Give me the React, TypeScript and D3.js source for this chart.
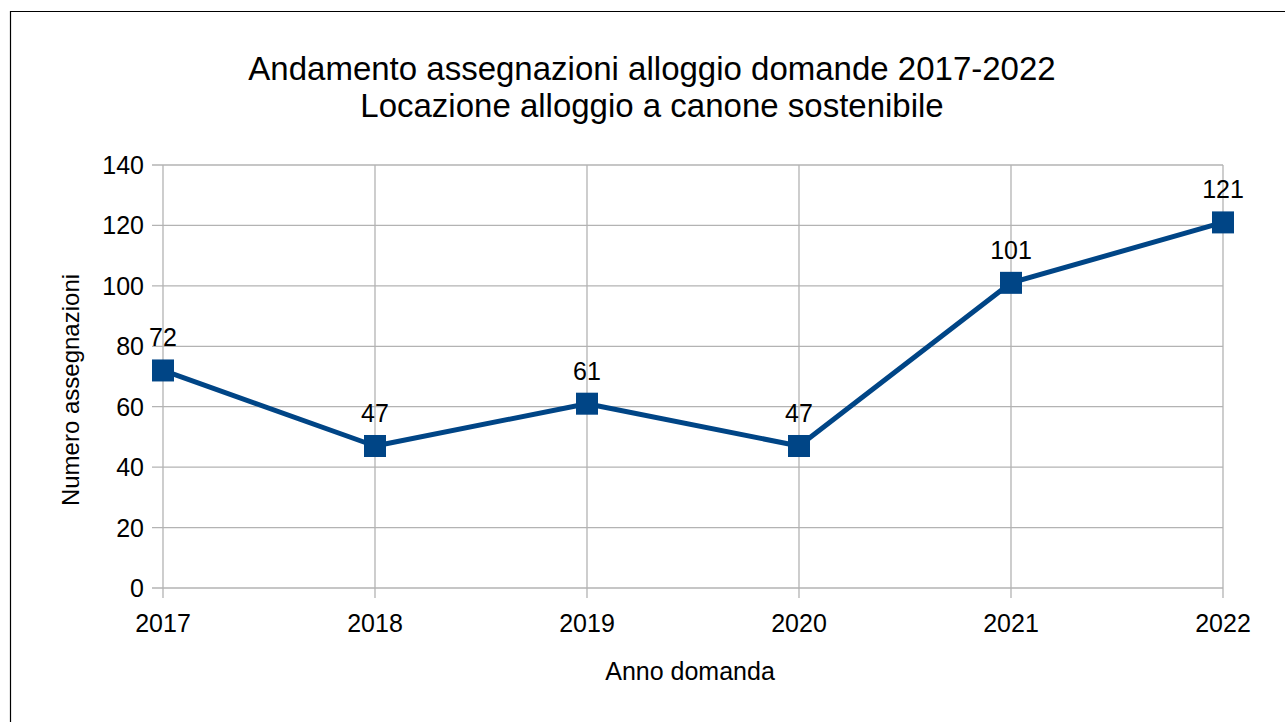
import React from "react";
import * as d3 from "d3";

const years = ["2017", "2018", "2019", "2020", "2021", "2022"];
const values = [72, 47, 61, 47, 101, 121];
const yTicks = [0, 20, 40, 60, 80, 100, 120, 140];
const titleLines = [
  "Andamento assegnazioni alloggio domande 2017-2022",
  "Locazione alloggio a canone sostenibile",
];
const xTitle = "Anno domanda";
const yTitle = "Numero assegnazioni";

const W = 1285;
const H = 722;
const left = 163;
const right = 1223;
const top = 165;
const bottom = 588;
const font = "'Liberation Sans', Arial, sans-serif";
const lineColor = "#004586";
const gridColor = "#b3b3b3";

export default function App() {
  const x = d3.scalePoint<string>().domain(years).range([left, right]);
  const y = d3.scaleLinear().domain([0, 140]).range([bottom, top]);
  const line = d3
    .line<number>()
    .x((_, i) => x(years[i]) as number)
    .y((d) => y(d));
  const ms = 22;

  return (
    <svg
      width={W}
      height={H}
      style={{ position: "absolute", left: 0, top: 0, background: "#fff" }}
      fontFamily={font}
    >
      <rect x={0} y={0} width={W} height={H} fill="#fff" />
      <path d={`M10.5,${H + 5}V11.5H${W + 5}`} fill="none" stroke="#000" strokeWidth={1.2} />
      {titleLines.map((t, i) => (
        <text key={i} x={652} y={80 + i * 37} textAnchor="middle" fontSize={33} fill="#000">
          {t}
        </text>
      ))}
      {yTicks.map((v) => (
        <g key={v}>
          <line x1={152} x2={right} y1={y(v)} y2={y(v)} stroke={gridColor} strokeWidth={1.3} />
          <text x={144} y={y(v) + 9} textAnchor="end" fontSize={25} fill="#000">
            {v}
          </text>
        </g>
      ))}
      {years.map((yr) => (
        <g key={yr}>
          <line
            x1={x(yr)}
            x2={x(yr)}
            y1={top}
            y2={bottom + 10}
            stroke={gridColor}
            strokeWidth={1.3}
          />
          <text x={x(yr)} y={632} textAnchor="middle" fontSize={25} fill="#000">
            {yr}
          </text>
        </g>
      ))}
      <path d={line(values) || ""} fill="none" stroke={lineColor} strokeWidth={5} strokeLinejoin="round" />
      {values.map((v, i) => (
        <g key={i}>
          <rect
            x={(x(years[i]) as number) - ms / 2}
            y={y(v) - ms / 2}
            width={ms}
            height={ms}
            fill={lineColor}
          />
          <text
            x={x(years[i]) as number}
            y={y(v) - 24}
            textAnchor="middle"
            fontSize={25}
            fill="#000"
          >
            {v}
          </text>
        </g>
      ))}
      <text x={690} y={680} textAnchor="middle" fontSize={25} fill="#000">
        {xTitle}
      </text>
      <text
        transform={`translate(79,390) rotate(-90)`}
        textAnchor="middle"
        fontSize={24}
        fill="#000"
      >
        {yTitle}
      </text>
    </svg>
  );
}
